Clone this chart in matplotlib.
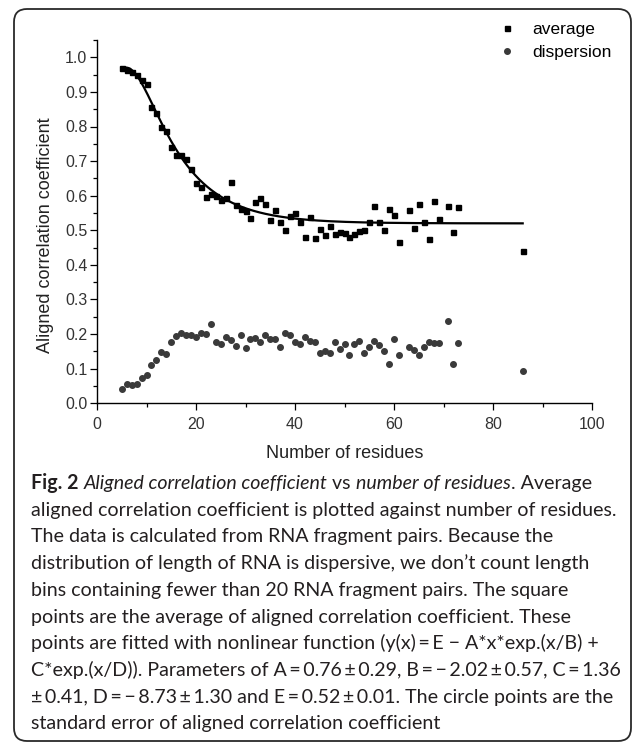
import numpy as np
import matplotlib
matplotlib.use("Agg")
import matplotlib.pyplot as plt
import matplotlib.transforms as mtransforms
from matplotlib.lines import Line2D
from matplotlib.patches import FancyBboxPatch
from matplotlib.ticker import MultipleLocator, FormatStrFormatter

# Average aligned correlation coefficient per number of residues
avg_x = list(range(5, 62)) + list(range(63, 70)) + [71, 72, 73, 86]
avg_y = [0.970, 0.963, 0.958, 0.949, 0.935, 0.924, 0.857, 0.840, 0.800, 0.787,
         0.740, 0.717, 0.717, 0.706, 0.676, 0.638, 0.624, 0.597, 0.605, 0.600,
         0.587, 0.594, 0.639, 0.574, 0.562, 0.557, 0.535, 0.581, 0.592, 0.575,
         0.531, 0.560, 0.525, 0.502, 0.541, 0.550, 0.523, 0.480, 0.539, 0.478,
         0.505, 0.486, 0.511, 0.488, 0.496, 0.492, 0.481, 0.490, 0.497, 0.500,
         0.523, 0.571, 0.524, 0.500, 0.562, 0.545, 0.465,
         0.560, 0.507, 0.576, 0.524, 0.476, 0.584, 0.533,
         0.570, 0.494, 0.568, 0.439]

# Dispersion (standard error) at the same lengths
disp_y = [0.040, 0.056, 0.053, 0.056, 0.073, 0.082, 0.111, 0.126, 0.148, 0.143,
          0.177, 0.195, 0.204, 0.196, 0.196, 0.192, 0.204, 0.200, 0.229, 0.178,
          0.170, 0.193, 0.183, 0.166, 0.196, 0.161, 0.185, 0.190, 0.176, 0.197,
          0.187, 0.187, 0.162, 0.204, 0.197, 0.176, 0.171, 0.193, 0.180, 0.176,
          0.145, 0.150, 0.145, 0.176, 0.158, 0.170, 0.140, 0.172, 0.181, 0.146,
          0.163, 0.180, 0.168, 0.151, 0.115, 0.186, 0.140,
          0.163, 0.154, 0.140, 0.163, 0.177, 0.173, 0.173,
          0.237, 0.114, 0.174, 0.094]

# Fit parameters: y(x) = E - A*x*exp(x/B) + C*exp(x/D)
A, B, C, D, E = 0.76, -2.02, 1.36, -8.73, 0.52

T = "\u2009"  # thin space used around = and ± in the caption
caption_lines = [
    [("Fig. 2", "bold"), (" ", "normal"), ("Aligned correlation coefficient", "italic"),
     (" vs ", "normal"), ("number of residues", "italic"), (". Average", "normal")],
    [("aligned correlation coefficient is plotted against number of residues.", "normal")],
    [("The data is calculated from RNA fragment pairs. Because the", "normal")],
    [("distribution of length of RNA is dispersive, we don\u2019t count length", "normal")],
    [("bins containing fewer than 20 RNA fragment pairs. The square", "normal")],
    [("points are the average of aligned correlation coefficient. These", "normal")],
    [(f"points are fitted with nonlinear function (y(x){T}={T}E \u2212 A*x*exp.(x/B) +", "normal")],
    [(f"C*exp.(x/D)). Parameters of A{T}={T}0.76{T}\u00b1{T}0.29, B{T}={T}\u2212{T}2.02{T}\u00b1{T}0.57, C{T}={T}1.36", "normal")],
    [(f"\u00b1{T}0.41, D{T}={T}\u2212{T}8.73{T}\u00b1{T}1.30 and E{T}={T}0.52{T}\u00b1{T}0.01. The circle points are the", "normal")],
    [("standard error of aligned correlation coefficient", "normal")],
]

W, H = 633, 743
plt.rcParams["font.family"] = ["Liberation Sans", "DejaVu Sans"]

fig = plt.figure(figsize=(W / 100, H / 100), dpi=100)
fig.patch.set_facecolor("white")

# rounded frame around figure and caption
frame = FancyBboxPatch((14, 2), 617, 732, boxstyle="round,pad=0,rounding_size=13",
                       transform=mtransforms.IdentityTransform(), fill=False,
                       edgecolor="#2a2a2a", linewidth=1.3)
fig.patches.append(frame)

ax = fig.add_axes([97 / W, 1 - 403.3 / H, 495 / W, 363.3 / H])

xfit = np.linspace(5, 86, 400)
yfit = E - A * xfit * np.exp(xfit / B) + C * np.exp(xfit / D)
ax.plot(xfit, yfit, color="black", linewidth=1.6, zorder=2)

ax.plot(avg_x, avg_y, linestyle="none", marker="s", markersize=3.6,
        color="black", zorder=3)
ax.plot(avg_x, disp_y, linestyle="none", marker="o", markersize=4.0,
        color="#3a3a3a", zorder=3)

ax.set_xlim(0, 100)
ax.set_ylim(0, 1.05)
ax.xaxis.set_major_locator(MultipleLocator(20))
ax.xaxis.set_minor_locator(MultipleLocator(10))
ax.yaxis.set_major_locator(MultipleLocator(0.1))
ax.yaxis.set_minor_locator(MultipleLocator(0.05))
ax.yaxis.set_major_formatter(FormatStrFormatter("%.1f"))

for side in ("top", "right"):
    ax.spines[side].set_visible(False)
for side in ("left", "bottom"):
    ax.spines[side].set_linewidth(1.0)
ax.tick_params(which="major", direction="out", length=5, width=0.9,
               labelsize=11.5, labelcolor="#333333")
ax.tick_params(which="minor", direction="out", length=3, width=0.9)
ax.tick_params(axis="x", which="major", pad=5)
ax.tick_params(axis="y", which="major", pad=2)

ax.set_xlabel("Number of residues", fontsize=13, color="#222222", labelpad=9)
ax.set_ylabel("Aligned correlation coefficient", fontsize=13, color="#222222")
ax.yaxis.set_label_coords(-0.087, 0.464)

handles = [Line2D([], [], linestyle="none", marker="s", markersize=3.6, color="black"),
           Line2D([], [], linestyle="none", marker="o", markersize=4.0, color="#3a3a3a")]
fig.legend(handles, ["average", "dispersion"], loc="upper left",
           bbox_to_anchor=(498 / W, 1 - 22 / H), frameon=False, fontsize=12.5,
           handlelength=1.0, handletextpad=0.95, labelspacing=0.47,
           borderpad=0, borderaxespad=0)

# caption, drawn piece by piece so the styles can be mixed on one line
renderer = fig.canvas.get_renderer()
ident = mtransforms.IdentityTransform()
cap_family = ["Lato", "DejaVu Sans"]
cap_color = "#231f20"


def advance(s, size, style):
    weight = "bold" if style == "bold" else "normal"
    fstyle = "italic" if style == "italic" else "normal"
    t1 = fig.text(0, 0, "|" + s + "|", fontsize=size, family=cap_family,
                  weight=weight, style=fstyle, transform=ident)
    t2 = fig.text(0, 0, "||", fontsize=size, family=cap_family,
                  weight=weight, style=fstyle, transform=ident)
    w = t1.get_window_extent(renderer).width - t2.get_window_extent(renderer).width
    t1.remove()
    t2.remove()
    return w


def line_width(parts, size):
    return sum(advance(s, size, style) for s, style in parts)


# size chosen so the widest caption line fits the text column
target = 590
cap_size = min(10 * target / line_width(parts, 10) for parts in caption_lines)

x0, base0, step = 31, 489, 26.7
for i, parts in enumerate(caption_lines):
    x = x0
    y = H - (base0 + i * step)
    for s, style in parts:
        fig.text(x, y, s, fontsize=cap_size, family=cap_family, color=cap_color,
                 weight="bold" if style == "bold" else "normal",
                 style="italic" if style == "italic" else "normal",
                 va="baseline", ha="left", transform=ident)
        x += advance(s, cap_size, style)

fig.savefig("out.png", dpi=100)
